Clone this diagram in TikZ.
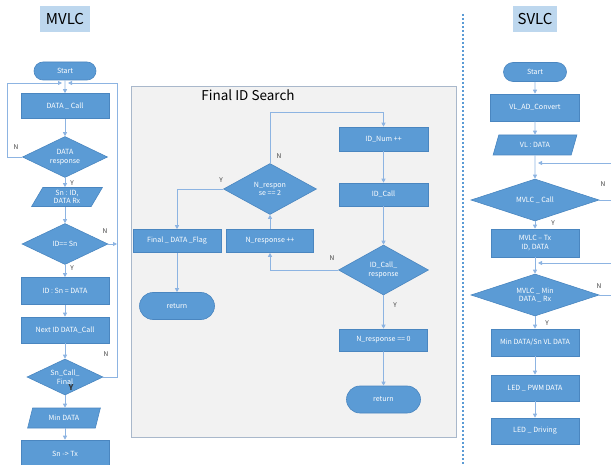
\documentclass[tikz,border=0pt]{standalone}
\usepackage{fontspec}
\newfontfamily\uifont{Noto Sans CJK KR}
\usetikzlibrary{shapes.geometric,shapes.misc,arrows.meta}
\definecolor{boxblue}{HTML}{5B9BD5}
\definecolor{boxedge}{HTML}{4A86C0}
\definecolor{linec}{HTML}{8DB4E2}
\definecolor{titlefill}{HTML}{BDD7EE}
\definecolor{panelfill}{HTML}{F2F2F2}
\definecolor{paneledge}{HTML}{A9B8CB}
\definecolor{labelc}{HTML}{404040}
\tikzset{
  shapebase/.style={fill=boxblue, draw=boxedge, line width=0.6pt, text=white,
    font=\uifont\fontsize{7.1}{8.5}\selectfont, align=center, inner sep=0pt},
  proc/.style={shapebase, rectangle},
  term/.style={shapebase, rounded rectangle},
  dec/.style={shapebase, diamond, aspect=2},
  io/.style={shapebase, trapezium, trapezium left angle=66, trapezium right angle=114,
    trapezium stretches=true},
  titlebox/.style={fill=titlefill, inner sep=0pt, font=\uifont\fontsize{15}{18}\selectfont},
  flow/.style={draw=linec, line width=0.8pt, -{Triangle[length=4pt,width=4pt]}},
  plain/.style={draw=linec, line width=0.8pt},
  lbl/.style={font=\uifont\fontsize{6.5}{8}\selectfont, text=labelc, inner sep=0pt},
  divider/.style={draw=boxblue, line width=2pt, dash pattern=on 2pt off 2pt}
}
\begin{document}
\begin{tikzpicture}[x=1pt,y=-1pt]
\useasboundingbox (0,0) rectangle (611,465);
\clip (0,0) rectangle (611,465);

% ---------------- MVLC ----------------
\node[titlebox, minimum width=50, minimum height=26] (mtitle) at (65,19) {MVLC};
\node[term, minimum width=62, minimum height=18] (mstart) at (65,71) {Start};
\node[proc, minimum width=88, minimum height=25] (mcall) at (65,106) {DATA \_ Call};
\node[dec, minimum width=85, minimum height=41] (mresp) at (65,157) {DATA\\response};
\node[io, minimum width=71, minimum height=19] (mrx) at (67,197) {Sn : ID,\\DATA Rx};
\node[dec, minimum width=86, minimum height=41] (mid) at (65,244) {ID== Sn};
\node[proc, minimum width=88, minimum height=27] (massign) at (65,291) {ID : Sn = DATA};
\node[proc, minimum width=88, minimum height=26] (mnext) at (65,330) {Next ID DATA\_Call};
\node[dec, minimum width=76, minimum height=36] (mfinal) at (65,377) {Sn\_Call\_\\Final};
\node[io, minimum width=73, minimum height=20] (mmin) at (64,418) {Min DATA};
\node[proc, minimum width=88, minimum height=28] (mtx) at (65,454) {Sn -> Tx};

\coordinate (mtopL) at (62,83);
\coordinate (mtopR) at (68,83);
\coordinate (midout) at (117,244);

\draw[flow] (mstart) -- (mcall);
\draw[flow] (mcall) -- (mresp);
\draw[flow] (mresp) -- (mrx.north -| mresp.south);
\draw[flow] (mrx.south -| mresp.south) -- (mid);
\draw[flow] (mid) -- (massign);
\draw[flow] (massign) -- (mnext);
\draw[flow] (mnext) -- (mfinal);
\draw[flow] (mfinal) -- (mmin.north -| mfinal.south);
\draw[flow] (mmin.south -| mfinal.south) -- (mtx);
\draw[flow] (mresp.west) -- ++(-15,0) |- (mtopL);
\draw[flow] (mfinal.east) -- ++(14,0) |- (mtopR);
\draw[flow] (mid.east) -- (midout);

\node[lbl] (mn1) at (16,147) {N};
\node[lbl] (my1) at (72,183) {Y};
\node[lbl] (mn2) at (105,231) {N};
\node[lbl] (my2) at (72,268) {Y};
\node[lbl] (mn3) at (106,354) {N};
\node[lbl, font=\uifont\fontsize{8}{9}\selectfont\bfseries, text=black!80] (my3) at (71,388) {Y};

% ---------------- Final ID Search ----------------
\node[fill=panelfill, draw=paneledge, line width=0.8pt, minimum width=325, minimum height=351, inner sep=0pt] (panel) at (293.5,261.5) {};
\node[font=\uifont\fontsize{13.5}{16}\selectfont, inner sep=0pt] (ptitle) at (248,95) {Final ID Search};

\node[dec, minimum width=93, minimum height=51] (nresp) at (270,189) {N\_respon\\se == 2};
\node[proc, minimum width=88, minimum height=23] (flag) at (177,241) {Final \_ DATA \_Flag};
\node[proc, minimum width=87, minimum height=23] (ninc) at (270,241) {N\_response ++};
\node[proc, minimum width=89, minimum height=24] (idnum) at (383.5,139) {ID\_Num ++};
\node[proc, minimum width=89, minimum height=23] (idcall) at (383.5,194.5) {ID\_Call};
\node[dec, minimum width=90, minimum height=50] (idresp) at (383.5,270) {ID\_Call\_\\response};
\node[proc, minimum width=88, minimum height=22] (nzero) at (383.5,340) {N\_response == 0};
\node[term, minimum width=74, minimum height=27] (ret2) at (383.5,399.5) {return};
\node[term, minimum width=75, minimum height=27] (ret1) at (177,306) {return};

\draw[flow] (nresp.north) -- ++(0,-51) -| (idnum.north);
\draw[flow] (nresp.west) -| (flag.north);
\draw[flow] (ninc) -- (nresp);
\draw[flow] (idnum) -- (idcall);
\draw[flow] (idcall) -- (idresp);
\draw[flow] (idresp.west) -| (ninc.south);
\draw[flow] (idresp) -- (nzero);
\draw[flow] (nzero) -- (ret2);
\draw[flow] (flag) -- (ret1);

\node[lbl] (pn1) at (279,156) {N};
\node[lbl] (py1) at (221,180) {Y};
\node[lbl] (pn2) at (332,258) {N};
\node[lbl] (py2) at (395,305) {Y};

% ---------------- divider ----------------
\coordinate (dtop) at (463,14);
\coordinate (dbot) at (463,466);
\draw[divider] (dtop) -- (dbot);

% ---------------- SVLC ----------------
\node[titlebox, minimum width=44, minimum height=26] (stitle) at (535,19) {SVLC};
\node[term, minimum width=63, minimum height=19] (sstart) at (535,72) {Start};
\node[proc, minimum width=89, minimum height=27] (sconv) at (535,107.5) {VL\_AD\_Convert};
\node[io, minimum width=84, minimum height=20] (sdata) at (535,145) {VL : DATA};
\node[dec, minimum width=128, minimum height=42] (scall) at (535,200) {MVLC \_ Call};
\node[proc, minimum width=88, minimum height=28] (stx) at (535,243) {MVLC – Tx\\ID, DATA};
\node[dec, minimum width=128, minimum height=42] (smin) at (535,295) {MVLC \_ Min\\DATA \_ Rx};
\node[proc, minimum width=88, minimum height=27] (sminbox) at (535,342.5) {Min DATA/Sn VL DATA};
\node[proc, minimum width=88, minimum height=26] (spwm) at (535,388) {LED \_ PWM DATA};
\node[proc, minimum width=88, minimum height=26] (sdrive) at (535,431) {LED \_ Driving};

\coordinate (sback1) at (612,163);
\coordinate (sin1) at (538,163);
\coordinate (sback2) at (612,263);
\coordinate (sin2) at (538,263);
\coordinate (sout1) at (612,200);
\coordinate (sout2) at (612,295);

\draw[flow] (sstart) -- (sconv);
\draw[flow] (sconv) -- (sdata);
\draw[flow] (sdata) -- (scall);
\draw[flow] (scall) -- (stx);
\draw[flow] (stx) -- (smin);
\draw[flow] (smin) -- (sminbox);
\draw[flow] (sminbox) -- (spwm);
\draw[flow] (spwm) -- (sdrive);
\draw[flow] (sback1) -- (sin1);
\draw[flow] (sback2) -- (sin2);
\draw[plain] (scall.east) -- (sout1);
\draw[plain] (smin.east) -- (sout2);

\node[lbl] (sn1) at (603,184) {N};
\node[lbl] (sy1) at (553,223) {Y};
\node[lbl] (sn2) at (599,286) {N};
\node[lbl] (sy2) at (547,323) {Y};
\end{tikzpicture}
\end{document}
